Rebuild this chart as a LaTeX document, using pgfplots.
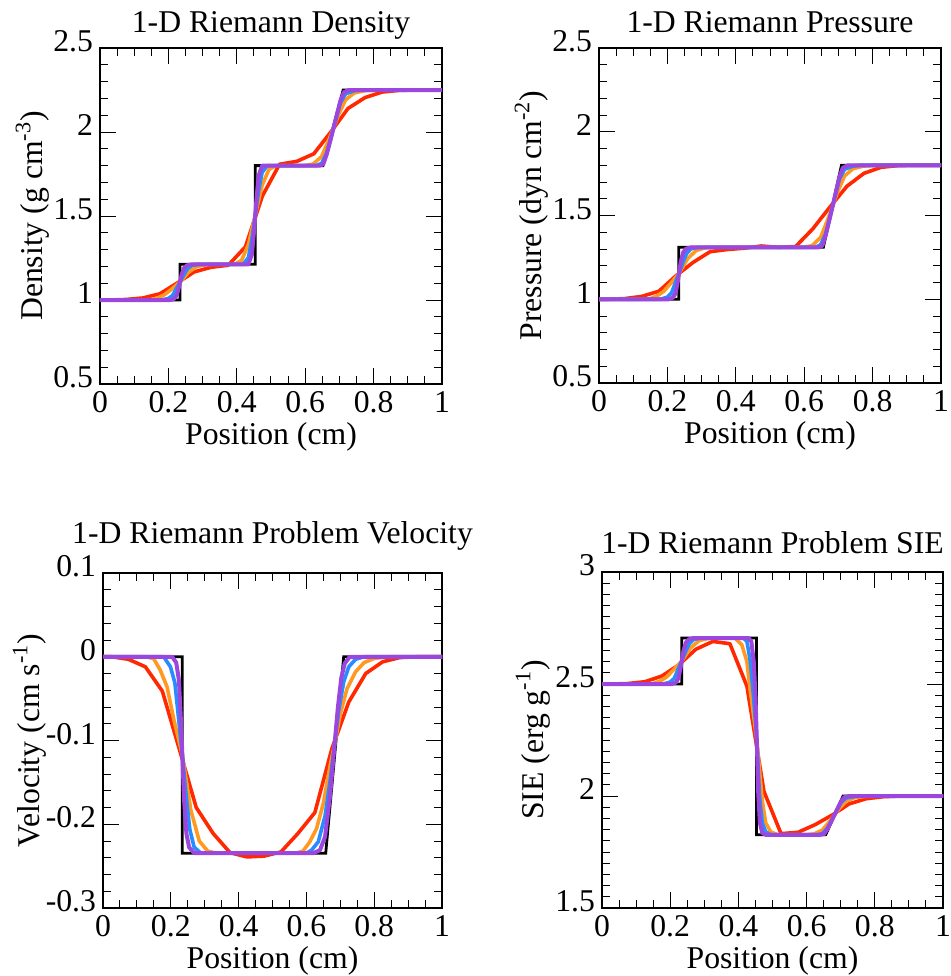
\documentclass[border=0pt]{standalone}
\usepackage{pgfplots}
\pgfplotsset{compat=1.18}
\usepackage{fontspec}
\setmainfont{Liberation Serif}
\definecolor{cred}{RGB}{255,40,0}
\definecolor{corange}{RGB}{255,153,34}
\definecolor{cblue}{RGB}{40,140,255}
\definecolor{cpurple}{RGB}{155,70,222}
\newcommand{\fs}{\fontsize{15.85}{18}\selectfont}
\pgfplotsset{
  rp/.style={
    scale only axis, xmin=0, xmax=1, xtick={0,0.2,0.4,0.6,0.8,1}, minor x tick num=3,
    tick align=inside, major tick length=8pt, minor tick length=4pt,
    every tick/.style={black, line width=0.5pt},
    axis line style={line width=0.8pt},
    tick label style={font=\fs},
    yticklabel style={yshift=3.3pt},
    label style={font=\fs},
    title style={font=\fs, at={(0.5,1)}, anchor=base},
    /pgf/number format/assume math mode=true,
    xlabel={Position (cm)},
    xlabel style={at={(axis description cs:0.5,0)}, anchor=base, yshift=-30pt},
  },
  exact/.style={black, line width=1.4pt, line join=miter, no marks},
  sr/.style={cred, line width=1.8pt, line join=round, no marks},
  so/.style={corange, line width=1.8pt, line join=round, no marks},
  sb/.style={cblue, line width=1.8pt, line join=round, no marks},
  sp/.style={cpurple, line width=2pt, line join=round, no marks},
}
\begin{document}
\begin{tikzpicture}
\path[use as bounding box] (0,0) rectangle (475pt,-488pt);
% ---------------- Density
\begin{axis}[rp, at={(50pt,-192pt)}, anchor=south west, width=171pt, height=168pt,
  ymin=0.5, ymax=2.5, ytick={0.5,1,1.5,2,2.5}, minor y tick num=4,
  title={1-D Riemann Density}, title style={yshift=2pt},
  ylabel={Density (g cm\textsuperscript{-3})},
  ylabel style={at={(axis description cs:-0.1667,0.5)}, anchor=base}]
\addplot[exact] coordinates {(0,1) (0.234,1) (0.234,1.2125) (0.454,1.2125) (0.454,1.80) (0.652,1.80) (0.711,2.25) (1,2.25)};
\addplot[sr] coordinates {(0,1) (0.025,1.0) (0.075,1.003) (0.125,1.012) (0.175,1.037) (0.225,1.10) (0.275,1.167) (0.325,1.195) (0.375,1.207) (0.425,1.316) (0.475,1.62) (0.525,1.808) (0.575,1.825) (0.625,1.87) (0.675,2.0) (0.725,2.14) (0.775,2.205) (0.825,2.238) (0.875,2.248) (0.925,2.25) (0.975,2.25) (1,2.25)};
\addplot[so] coordinates {(0,1) (0.124,1) (0.149,1.002) (0.169,1.013) (0.189,1.032) (0.209,1.064) (0.234,1.106) (0.259,1.166) (0.284,1.200) (0.309,1.210) (0.334,1.2125) (0.394,1.2125) (0.414,1.236) (0.434,1.33) (0.454,1.506) (0.474,1.683) (0.494,1.777) (0.514,1.80) (0.598,1.80) (0.623,1.809) (0.648,1.854) (0.668,1.9485) (0.683,2.025) (0.698,2.106) (0.718,2.1915) (0.743,2.232) (0.773,2.2455) (0.813,2.25) (1,2.25)};
\addplot[sb] coordinates {(0,1) (0.179,1) (0.199,1.0085) (0.212,1.026) (0.222,1.064) (0.234,1.106) (0.246,1.153) (0.256,1.187) (0.269,1.206) (0.289,1.2125) (0.419,1.2125) (0.434,1.254) (0.444,1.359) (0.454,1.506) (0.464,1.653) (0.474,1.759) (0.489,1.80) (0.633,1.80) (0.648,1.8135) (0.663,1.8765) (0.683,2.025) (0.703,2.1735) (0.718,2.2275) (0.743,2.2455) (0.763,2.25) (1,2.25)};
\addplot[sp] coordinates {(0,1) (0.204,1) (0.216,1.006) (0.224,1.026) (0.230,1.070) (0.234,1.106) (0.239,1.153) (0.246,1.191) (0.254,1.206) (0.269,1.2125) (0.434,1.2125) (0.444,1.271) (0.450,1.40) (0.454,1.506) (0.458,1.612) (0.464,1.741) (0.474,1.80) (0.643,1.80) (0.653,1.809) (0.663,1.8675) (0.673,1.944) (0.683,2.025) (0.693,2.106) (0.703,2.187) (0.713,2.2365) (0.728,2.25) (1,2.25)};
\end{axis}
% ---------------- Pressure
\begin{axis}[rp, at={(299.5pt,-191.5pt)}, anchor=south west, width=171pt, height=167.5pt,
  ymin=0.5, ymax=2.5, ytick={0.5,1,1.5,2,2.5}, minor y tick num=4,
  title={1-D Riemann Pressure}, title style={yshift=2pt},
  ylabel={Pressure (dyn cm\textsuperscript{-2})},
  ylabel style={at={(axis description cs:-0.1667,0.5)}, anchor=base}]
\addplot[exact] coordinates {(0,1) (0.233,1) (0.233,1.31) (0.656,1.31) (0.709,1.80) (1,1.80)};
\addplot[sr] coordinates {(0,1) (0.025,1.0) (0.075,1.004) (0.125,1.017) (0.175,1.048) (0.225,1.14) (0.275,1.22) (0.325,1.284) (0.375,1.297) (0.425,1.305) (0.475,1.318) (0.525,1.31) (0.575,1.315) (0.625,1.42) (0.675,1.55) (0.725,1.675) (0.775,1.752) (0.825,1.788) (0.875,1.798) (0.925,1.8) (0.975,1.8) (1,1.8)};
\addplot[so] coordinates {(0,1) (0.124,1) (0.149,1.003) (0.169,1.019) (0.189,1.047) (0.209,1.093) (0.234,1.155) (0.259,1.242) (0.284,1.291) (0.309,1.307) (0.334,1.31) (0.598,1.31) (0.623,1.32) (0.648,1.369) (0.668,1.472) (0.683,1.555) (0.698,1.643) (0.718,1.736) (0.743,1.780) (0.773,1.795) (0.813,1.80) (1,1.80)};
\addplot[sb] coordinates {(0,1) (0.179,1) (0.199,1.012) (0.212,1.037) (0.222,1.093) (0.234,1.155) (0.246,1.223) (0.256,1.273) (0.269,1.301) (0.289,1.31) (0.633,1.31) (0.648,1.325) (0.663,1.393) (0.683,1.555) (0.703,1.717) (0.718,1.776) (0.743,1.795) (0.763,1.80) (1,1.80)};
\addplot[sp] coordinates {(0,1) (0.204,1) (0.216,1.009) (0.224,1.037) (0.230,1.102) (0.234,1.155) (0.239,1.223) (0.246,1.279) (0.254,1.301) (0.269,1.31) (0.643,1.31) (0.653,1.32) (0.663,1.384) (0.673,1.467) (0.683,1.555) (0.693,1.643) (0.703,1.731) (0.713,1.785) (0.728,1.80) (1,1.80)};
\end{axis}
% ---------------- Velocity
\begin{axis}[rp, at={(51.5pt,-454pt)}, anchor=south west, width=169.5pt, height=167.5pt,
  ymin=-0.3, ymax=0.1, ytick={-0.3,-0.2,-0.1,0,0.1}, minor y tick num=4,
  title={1-D Riemann Problem Velocity}, title style={yshift=9pt},
  ylabel={Velocity (cm s\textsuperscript{-1})},
  ylabel style={at={(axis description cs:-0.186,0.5)}, anchor=base}]
\addplot[exact] coordinates {(0,0) (0.234,0) (0.234,-0.2345) (0.657,-0.2345) (0.710,0) (1,0)};
\addplot[sr] coordinates {(0,0) (0.025,0) (0.075,-0.003) (0.125,-0.012) (0.175,-0.041) (0.225,-0.11) (0.275,-0.18) (0.325,-0.211) (0.375,-0.234) (0.425,-0.239) (0.475,-0.238) (0.525,-0.233) (0.575,-0.211) (0.625,-0.186) (0.675,-0.11) (0.725,-0.054) (0.775,-0.02) (0.825,-0.006) (0.875,-0.001) (0.925,0) (0.975,0) (1,0)};
\addplot[so] coordinates {(0,0) (0.124,0) (0.149,-0.002) (0.169,-0.016) (0.189,-0.036) (0.209,-0.075) (0.234,-0.117) (0.259,-0.183) (0.284,-0.22) (0.309,-0.232) (0.334,-0.2345) (0.57,-0.2345) (0.59,-0.232) (0.61,-0.221) (0.63,-0.205) (0.65,-0.175) (0.67,-0.13) (0.683,-0.105) (0.70,-0.068) (0.72,-0.038) (0.745,-0.018) (0.77,-0.007) (0.80,-0.002) (0.84,0) (1,0)};
\addplot[sb] coordinates {(0,0) (0.179,0) (0.199,-0.012) (0.212,-0.031) (0.222,-0.07) (0.234,-0.117) (0.246,-0.169) (0.256,-0.206) (0.269,-0.2275) (0.289,-0.2345) (0.60,-0.2345) (0.615,-0.231) (0.635,-0.221) (0.655,-0.19) (0.67,-0.148) (0.683,-0.105) (0.695,-0.065) (0.71,-0.03) (0.725,-0.012) (0.745,-0.003) (0.77,0) (1,0)};
\addplot[sp] coordinates {(0,0) (0.204,0) (0.216,-0.007) (0.224,-0.028) (0.230,-0.077) (0.234,-0.117) (0.239,-0.169) (0.246,-0.211) (0.254,-0.2275) (0.269,-0.2345) (0.62,-0.2345) (0.64,-0.231) (0.655,-0.215) (0.67,-0.165) (0.683,-0.105) (0.693,-0.06) (0.703,-0.025) (0.713,-0.008) (0.728,0) (1,0)};
\end{axis}
% ---------------- SIE
\begin{axis}[rp, at={(301pt,-454pt)}, anchor=south west, width=170.5pt, height=168pt,
  ymin=1.5, ymax=3, ytick={1.5,2,2.5,3}, minor y tick num=9,
  title={1-D Riemann Problem SIE}, title style={yshift=3.5pt},
  ylabel={SIE (erg g\textsuperscript{-1})},
  ylabel style={at={(axis description cs:-0.173,0.5)}, anchor=base}]
\addplot[exact] coordinates {(0,2.5) (0.234,2.5) (0.234,2.705) (0.453,2.705) (0.453,1.827) (0.656,1.827) (0.707,2.0) (1,2.0)};
\addplot[sr] coordinates {(0,2.5) (0.025,2.5) (0.075,2.502) (0.125,2.51) (0.175,2.535) (0.225,2.585) (0.275,2.655) (0.325,2.69) (0.375,2.68) (0.425,2.49) (0.475,2.02) (0.525,1.832) (0.575,1.838) (0.625,1.872) (0.675,1.915) (0.725,1.965) (0.775,1.988) (0.825,1.997) (0.875,2.0) (0.925,2.0) (0.975,2.0) (1,2.0)};
\addplot[so] coordinates {(0,2.5) (0.124,2.5) (0.149,2.502) (0.169,2.512) (0.189,2.531) (0.209,2.562) (0.234,2.603) (0.259,2.66) (0.284,2.693) (0.309,2.703) (0.334,2.705) (0.39,2.705) (0.41,2.675) (0.425,2.60) (0.434,2.48) (0.454,2.25) (0.47,1.98) (0.48,1.88) (0.495,1.84) (0.515,1.827) (0.596,1.827) (0.621,1.830) (0.646,1.848) (0.666,1.884) (0.681,1.9135) (0.696,1.945) (0.716,1.977) (0.741,1.993) (0.771,1.998) (0.811,2.0) (1,2.0)};
\addplot[sb] coordinates {(0,2.5) (0.179,2.5) (0.199,2.508) (0.212,2.525) (0.222,2.562) (0.234,2.603) (0.246,2.648) (0.256,2.68) (0.269,2.699) (0.289,2.705) (0.415,2.705) (0.425,2.69) (0.435,2.60) (0.444,2.45) (0.454,2.25) (0.462,2.0) (0.47,1.88) (0.48,1.84) (0.495,1.827) (0.631,1.827) (0.646,1.832) (0.661,1.856) (0.681,1.9135) (0.701,1.971) (0.716,1.991) (0.741,1.998) (0.761,2.0) (1,2.0)};
\addplot[sp] coordinates {(0,2.5) (0.204,2.5) (0.216,2.506) (0.224,2.525) (0.230,2.568) (0.234,2.603) (0.239,2.648) (0.246,2.685) (0.254,2.699) (0.269,2.705) (0.43,2.705) (0.438,2.69) (0.445,2.60) (0.45,2.45) (0.454,2.25) (0.458,2.02) (0.463,1.88) (0.47,1.835) (0.48,1.827) (0.641,1.827) (0.651,1.830) (0.661,1.853) (0.671,1.882) (0.681,1.9135) (0.691,1.945) (0.701,1.976) (0.711,1.995) (0.726,2.0) (1,2.0)};
\end{axis}
\end{tikzpicture}
\end{document}
